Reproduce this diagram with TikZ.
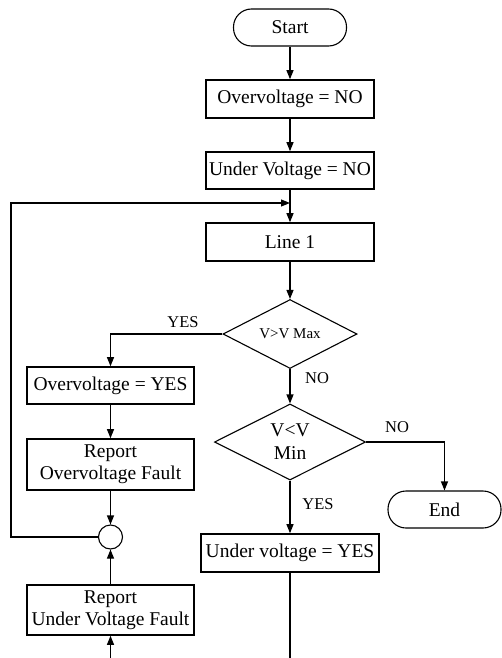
\documentclass[tikz,border=0pt]{standalone}
\usepackage{fontspec}
\setmainfont{Liberation Serif}
\usetikzlibrary{shapes.geometric,arrows.meta}
\begin{document}
\begin{tikzpicture}[x=1pt,y=-1pt,
  font=\fontsize{19.5}{22}\selectfont,
  procbox/.style={draw,line width=1.6pt,rectangle,inner sep=0pt,align=center},
  terminal/.style={draw,line width=1.1pt,rectangle,rounded corners=18pt,inner sep=0pt,minimum width=113pt,minimum height=37pt},
  decision/.style={draw,line width=1.1pt,diamond,inner sep=0pt},
  joint/.style={draw,line width=1.1pt,circle,inner sep=0pt,minimum size=24pt},
  flow/.style={line width=1.1pt,-{Triangle[length=9pt,width=7pt]}},
  plain/.style={line width=1.1pt},
  tag/.style={font=\fontsize{16.5}{18}\selectfont,inner sep=0pt}]
\useasboundingbox (0,0) rectangle (501,658);

% main column
\node[terminal] (start) at (290,27.5) {Start};
\node[procbox,minimum width=168pt,minimum height=38pt] (ovno) at (290,99) {Overvoltage = NO};
\node[procbox,minimum width=168pt,minimum height=37pt] (unno) at (290,170.5) {Under Voltage = NO};
\coordinate (merge) at (290,203);
\node[procbox,minimum width=168pt,minimum height=38pt] (line1) at (290,242) {Line 1};
\node[decision,minimum width=134pt,minimum height=69pt,
  label={[font=\fontsize{15}{17}\selectfont]center:V>V Max}] (dmax) at (290,334) {};
\node[decision,minimum width=151pt,minimum height=76pt,
  label={[align=center,font=\fontsize{19.5}{23}\selectfont]center:V<V\\Min}] (dmin) at (290,442) {};
\node[procbox,minimum width=178pt,minimum height=38pt] (unyes) at (290,553) {Under voltage = YES};
\coordinate (mainout) at (290,658);
\node[terminal] (end) at (444.5,509.5) {End};

% left column
\node[procbox,minimum width=167pt,minimum height=37pt] (ovyes) at (110.5,385.5) {Overvoltage = YES};
\node[procbox,minimum width=167pt,minimum height=51pt] (repov) at (110.5,464.5) {Report\\Overvoltage Fault};
\node[joint] (join) at (110.5,537) {};
\node[procbox,minimum width=167pt,minimum height=50pt] (repun) at (110.5,610) {Report\\Under Voltage Fault};
\coordinate (leftin) at (110.5,658);
\coordinate (loopbl) at (11,537);
\coordinate (looptl) at (11,203);

% connectors
\draw[flow] (start) -- (ovno);
\draw[flow] (ovno) -- (unno);
\draw[plain] (unno) -- (merge);
\draw[flow] (merge) -- (line1);
\draw[flow] (line1) -- (dmax);
\draw[flow] (dmax.west) -| (ovyes.north);
\draw[flow] (dmax) -- (dmin);
\draw[flow] (dmin.east) -| (end.north);
\draw[flow] (dmin) -- (unyes);
\draw[plain] (unyes) -- (mainout);
\draw[flow] (ovyes) -- (repov);
\draw[flow] (repov) -- (join);
\draw[flow] (repun) -- (join);
\draw[flow] (leftin) -- (repun);
\draw[flow] (join.west) -- (loopbl) -- (looptl) -- (merge);

% branch labels
\node[tag] (ymax) at (183,322) {YES};
\node[tag] (nmax) at (317,378) {NO};
\node[tag] (nmin) at (397,427) {NO};
\node[tag] (ymin) at (318,504) {YES};
\end{tikzpicture}
\end{document}
